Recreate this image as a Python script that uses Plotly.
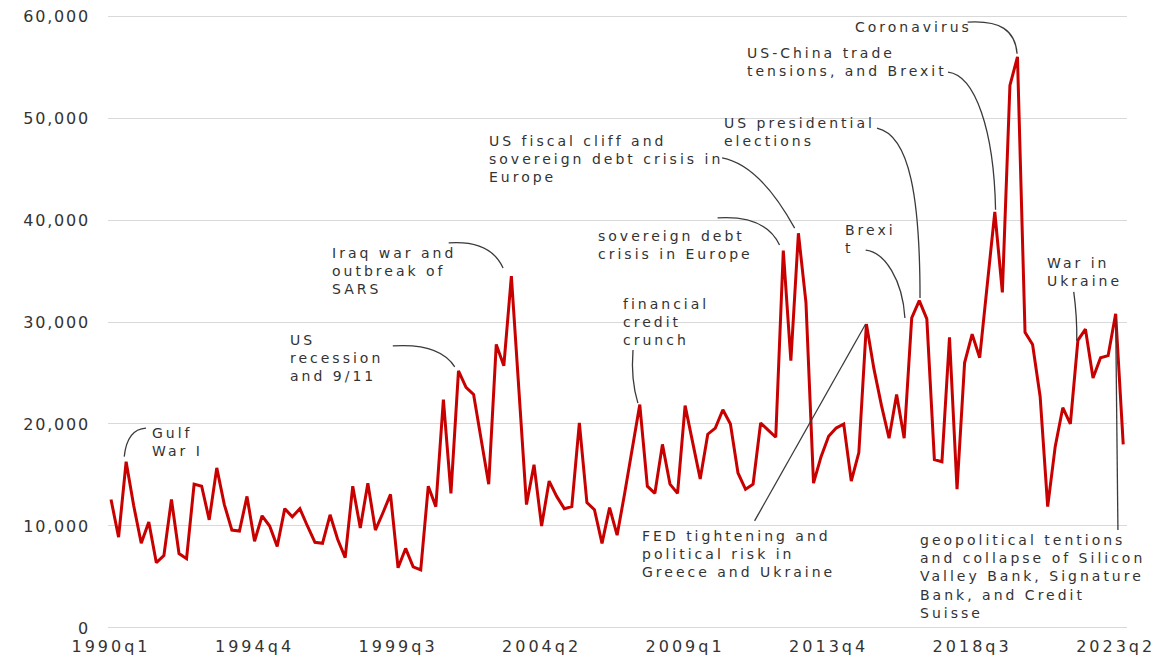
import plotly.graph_objects as go

# ---------------- data ----------------
values = [12600, 8900, 16300, 12000, 8300, 10400, 6400, 7100, 12600, 7300,
          6800, 14100, 13900, 10600, 15700, 12100, 9600, 9500, 12900, 8500,
          11000, 10000, 8000, 11700, 10900, 11700, 10000, 8400, 8300, 11100,
          8700, 6900, 13900, 9800, 14200, 9600, 11300, 13100, 5900, 7800,
          6000, 5700, 13900, 11900, 22400, 13200, 25200, 23600, 22900, 18500,
          14100, 27800, 25700, 34500, 23300, 12100, 16000, 10000, 14400, 12900,
          11700, 11900, 20100, 12300, 11600, 8300, 11800, 9100, 13200, 17500,
          21900, 13900, 13200, 18000, 14100, 13200, 21800, 18200, 14600, 19000,
          19600, 21400, 20000, 15200, 13600, 14100, 20100, 19400, 18700, 37000,
          26200, 38700, 31900, 14200, 16800, 18800, 19600, 20000, 14400, 17200,
          29800, 25400, 21800, 18600, 22900, 18600, 30400, 32100, 30300, 16500,
          16300, 28500, 13600, 26000, 28800, 26500, 34000, 40800, 32900, 53200,
          56000, 29000, 27800, 22700, 11900, 17800, 21600, 20000, 28200, 29300,
          24500, 26500, 26700, 30800, 18000]

quarter_labels = [f"{1990 + i // 4}q{i % 4 + 1}" for i in range(len(values))]
tick_labels = ["1990q1", "1994q4", "1999q3", "2004q2", "2009q1", "2013q4", "2018q3", "2023q2"]
y_ticks = [0, 10000, 20000, 30000, 40000, 50000, 60000]

events = [
    (["Gulf", "War I"], 5.16, 20100),
    (["US", "recession", "and 9/11"], 23.4, 29200),
    (["Iraq war and", "outbreak of", "SARS"], 29.0, 37750),
    (["financial", "credit", "crunch"], 67.5, 32750),
    (["sovereign debt", "crisis in Europe"], 64.2, 39400),
    (["US fiscal cliff and", "sovereign debt crisis in", "Europe"], 49.8, 48700),
    (["US presidential", "elections"], 80.9, 50500),
    (["Brexi", "t"], 96.9, 40000),
    (["US-China trade", "tensions, and Brexit"], 83.9, 57350),
    (["Coronavirus"], 98.2, 59900),
    (["FED tightening and", "political risk in", "Greece and Ukraine"], 70.0, 10000),
    (["War in", "Ukraine"], 123.6, 36750),
    (["geopolitical tentions", "and collapse of Silicon", "Valley Bank, Signature",
      "Bank, and Credit", "Suisse"], 106.8, 9600),
]

connectors = [
    "M 4.63,19600 Q 2.12,19500 1.75,16800",
    "M 37.3,27650 Q 43.5,27950 45.5,25600",
    "M 44.7,37750 Q 50.2,38050 51.9,35300",
    "M 69.1,27250 Q 68.8,24300 69.75,22050",
    "M 80.3,40200 Q 86.6,40500 88.5,37550",
    "M 80.9,46100 Q 85.9,45400 90.5,39200",
    "M 101.4,49000 C 105.8,48300 107.1,42000 107.1,32350",
    "M 99.9,37050 C 102.45,36850 104.8,34100 105.1,30400",
    "M 110.8,54500 C 114.4,54200 116.9,48800 117.1,41000",
    "M 113.4,59400 C 117.7,59600 119.7,58600 119.95,56300",
    "M 85.2,10500 L 99.9,29800",
    "M 127.45,32950 Q 127.9,30500 127.85,28150",
    "M 133.0,30400 L 133.3,9600",
]

# ---------------- figure ----------------
TXT = "#333333"
FONT = "DejaVu Sans"


def spaced(s, px):
    return f"<span style='letter-spacing:{px}px'>{s}</span>"


x_idx = list(range(len(values)))
tick_idx = [quarter_labels.index(t) for t in tick_labels]

fig = go.Figure()
fig.add_trace(go.Scatter(
    x=x_idx, y=values, mode="lines",
    line=dict(color="#C80000", width=3),
    hoverinfo="skip", showlegend=False,
))

for lines, tx, ty in events:
    fig.add_annotation(
        x=tx, y=ty, xref="x", yref="y",
        text="<br>".join(spaced(l, 3.0) for l in lines),
        showarrow=False, xanchor="left", yanchor="top", align="left",
        font=dict(family=FONT, size=14, color=TXT),
    )

for p in connectors:
    fig.add_shape(type="path", path=p, xref="x", yref="y",
                  line=dict(color="#3a3a3a", width=1.3))

# the page body has an 8px margin, so the figure is sized/offset for it
fig.update_layout(
    width=1156, height=658,
    margin=dict(l=100, r=37, t=7, b=37, autoexpand=False),
    paper_bgcolor="white", plot_bgcolor="white",
    showlegend=False,
    font=dict(family=FONT, color=TXT, size=16),
)
fig.update_xaxes(
    range=[-0.4, 134.5], automargin=False,
    tickmode="array", tickvals=tick_idx,
    ticktext=[spaced(t, 3) for t in tick_labels],
    showgrid=False, zeroline=False, showline=False, ticks="",
    ticklabelstandoff=6, ticklabeloverflow="allow",
    tickfont=dict(family=FONT, size=16, color=TXT),
)
fig.update_yaxes(
    range=[-100, 60100], automargin=False,
    tickmode="array", tickvals=y_ticks,
    ticktext=[spaced(f"{v:,}", 1.8) for v in y_ticks],
    showgrid=True, gridcolor="#D9D9D9", gridwidth=1,
    zeroline=False, showline=False, ticks="",
    ticklabelstandoff=17, ticklabeloverflow="allow",
    tickfont=dict(family=FONT, size=16, color=TXT),
)

fig.write_html("out.html")
